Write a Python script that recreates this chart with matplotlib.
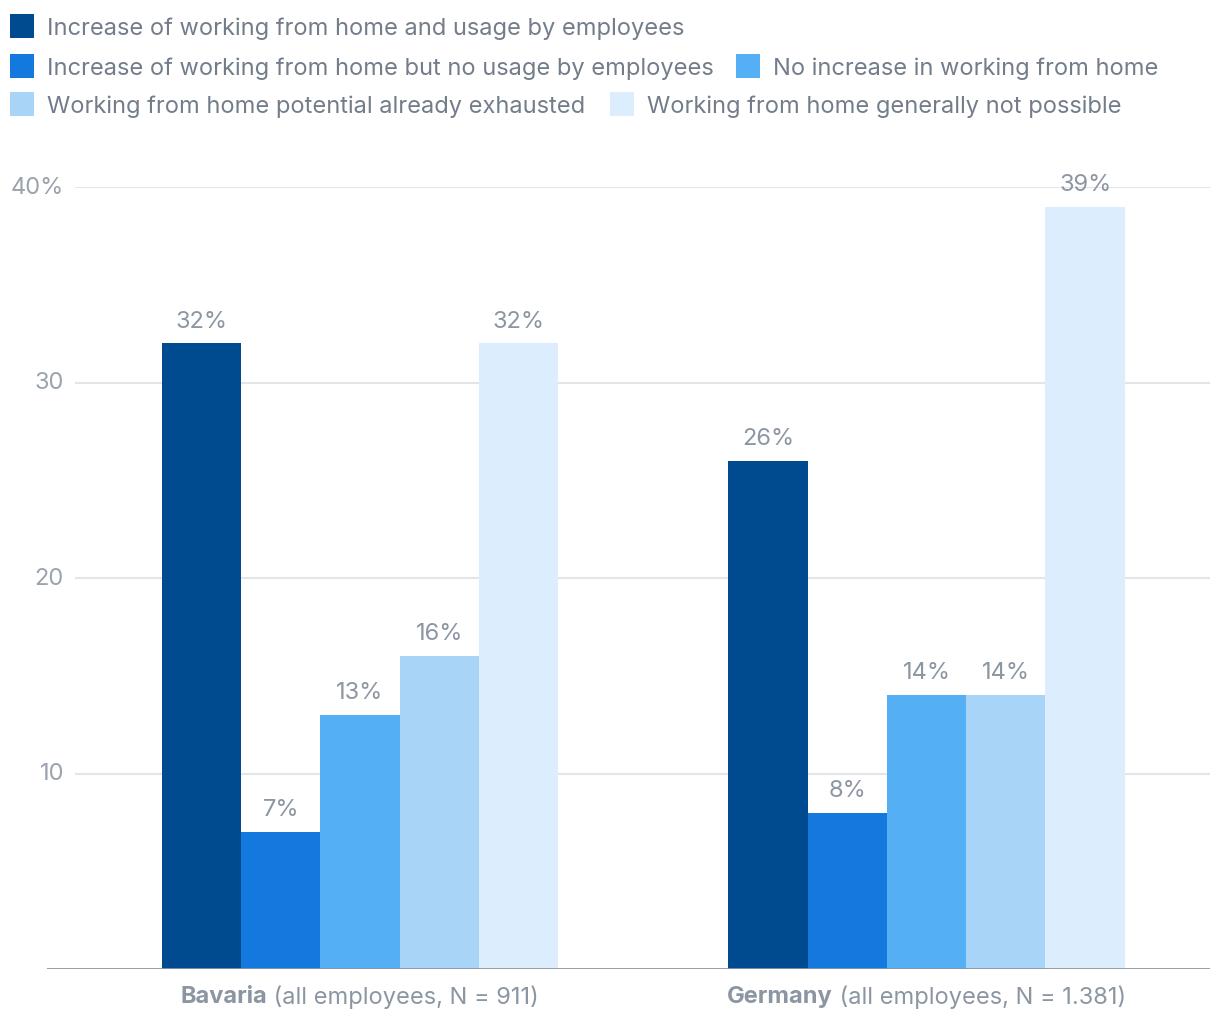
import matplotlib
matplotlib.use("Agg")
import matplotlib.pyplot as plt
from matplotlib.patches import Rectangle
from matplotlib.transforms import blended_transform_factory

plt.rcParams['font.family'] = ['Inter', 'DejaVu Sans']

groups_bold = ["Bavaria", "Germany"]
groups_rest = [" (all employees, N = 911)", " (all employees, N = 1.381)"]
series = [
    "Increase of working from home and usage by employees",
    "Increase of working from home but no usage by employees",
    "No increase in working from home",
    "Working from home potential already exhausted",
    "Working from home generally not possible",
]
values = [
    [32, 26],
    [7, 8],
    [13, 14],
    [16, 14],
    [32, 39],
]
colors = ["#004A8F", "#1479DE", "#54AFF5", "#A8D4F7", "#DCEEFD"]
yticks = [10, 20, 30, 40]
ytick_labels = ["10", "20", "30", "40%"]

W, H = 1220, 1020
fig = plt.figure(figsize=(W / 100, H / 100), dpi=100)
ax = fig.add_axes([47 / W, 50 / H, (1210 - 47) / W, 782 / H])

bw = 0.14
n = len(series)
label_col = "#8C96A3"
for i, (s, vals, c) in enumerate(zip(series, values, colors)):
    xs = [g + (i - (n - 1) / 2) * bw for g in range(len(groups_bold))]
    bars = ax.bar(xs, vals, width=bw, color=c, linewidth=0, zorder=3)
    for x, v in zip(xs, vals):
        ax.annotate(f"{v}%", (x, v), xytext=(0, 8.5), textcoords="offset points",
                    ha="center", va="bottom", fontsize=17, color=label_col,
                    annotation_clip=False)

ax.set_xlim(-0.5525, 1.5004)
ax.set_ylim(0, 40)
for sp in ax.spines.values():
    sp.set_visible(False)
ax.axhline(0, color="#8C96A3", linewidth=2, zorder=4)
gx0 = (76 - 47) / (1210 - 47)
for t in yticks:
    ax.axhline(t, xmin=gx0, xmax=1, color="#E3E5E8", linewidth=1.5, zorder=1)
ax.set_xticks([])
ax.set_yticks([])
trans = blended_transform_factory(ax.transAxes, ax.transData)
for t, lab in zip(yticks, ytick_labels):
    ax.text((64 - 47) / (1210 - 47), t, lab, transform=trans, ha="right",
            va="center", fontsize=17, color="#9AA3AE")

# category labels (bold part + regular part, centered together)
renderer = fig.canvas.get_renderer()
for gi, (b, r) in enumerate(zip(groups_bold, groups_rest)):
    tb = ax.text(gi, -1.4, b, ha="left", va="center", fontsize=17,
                 fontweight="bold", color="#8C96A3")
    tr = ax.text(gi, -1.4, r, ha="left", va="center", fontsize=17,
                 color="#8C96A3")
    wb = tb.get_window_extent(renderer).width
    wr = tr.get_window_extent(renderer).width
    cx = ax.transData.transform((gi, 0))[0]
    x0 = cx - (wb + wr) / 2
    inv = ax.transData.inverted()
    xb = inv.transform((x0, 0))[0]
    xr = inv.transform((x0 + wb, 0))[0]
    tb.set_x(xb)
    tr.set_x(xr)

# legend
leg_pos = [(10, 27), (10, 67), (736, 67), (10, 105), (610, 105)]
for (px, py), s, c in zip(leg_pos, series, colors):
    fig.patches.append(Rectangle((px / W, 1 - (py + 12) / H), 24 / W, 24 / H,
                                 transform=fig.transFigure, color=c, linewidth=0))
    fig.text((px + 37) / W, 1 - (py + 2) / H, s, ha="left", va="center",
             fontsize=17, color="#737D8A")

fig.savefig("out.png", dpi=100, facecolor="white")
